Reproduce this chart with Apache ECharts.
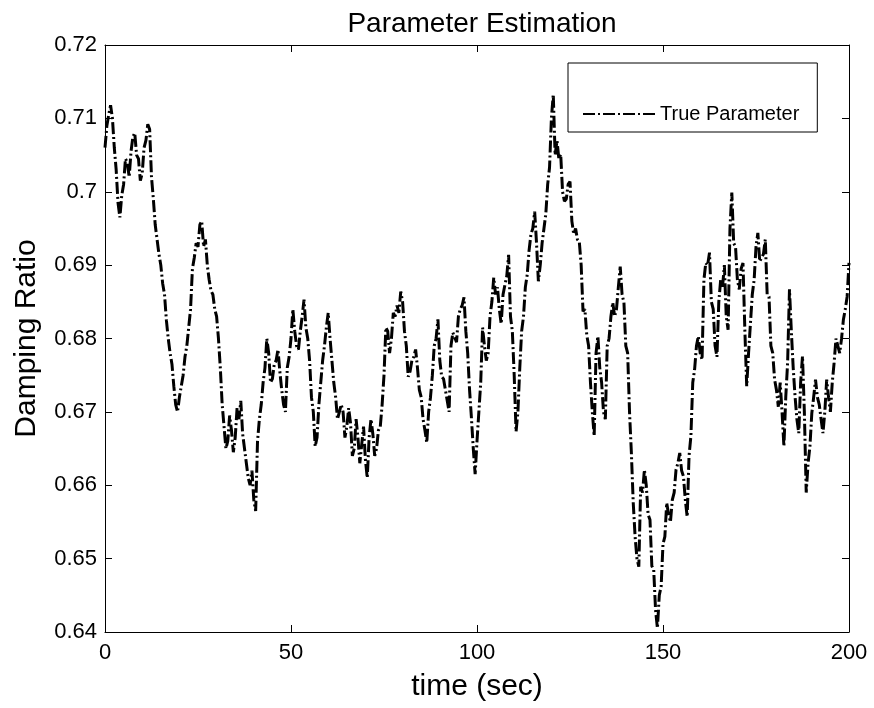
<!DOCTYPE html>
<html>
<head>
<meta charset="utf-8">
<script src="https://cdn.jsdelivr.net/npm/echarts@6/dist/echarts.min.js"></script>
<style>
html,body{margin:0;padding:0;background:#fff;}
#chart{width:874px;height:708px;}
</style>
</head>
<body>
<div id="chart"></div>
<script>
// Sample step (sec) of the trace
var timeStep = 0.5;

// True Parameter (damping ratio) sampled every 0.5 s from t = 0 to 200
var trueParameter = [
// 0 - 9.5
0.7060,0.7090,0.7105,0.7118,0.7100,0.7060,0.7030,0.6985,0.6965,0.6995,0.7010,0.7045,0.7040,0.7020,0.7055,0.7075,0.7080,0.7050,0.7045,0.7015,
// 10 - 19.5
0.7025,0.7060,0.7070,0.7092,0.7085,0.7020,0.6990,0.6955,0.6935,0.6915,0.6900,0.6875,0.6860,0.6825,0.6800,0.6780,0.6765,0.6735,0.6710,0.6700,
// 20 - 29.5
0.6720,0.6735,0.6750,0.6775,0.6790,0.6815,0.6840,0.6895,0.6910,0.6930,0.6925,0.6955,0.6960,0.6925,0.6935,0.6900,0.6880,0.6865,0.6860,0.6840,
// 30 - 39.5
0.6830,0.6800,0.6760,0.6710,0.6680,0.6650,0.6660,0.6695,0.6675,0.6645,0.6665,0.6705,0.6690,0.6715,0.6670,0.6650,0.6630,0.6610,0.6600,0.6620,
// 40 - 49.5
0.6580,0.6565,0.6660,0.6690,0.6710,0.6740,0.6760,0.6800,0.6780,0.6740,0.6745,0.6765,0.6770,0.6785,0.6755,0.6730,0.6710,0.6700,0.6760,0.6775,
// 50 - 59.5
0.6800,0.6840,0.6810,0.6790,0.6785,0.6810,0.6830,0.6853,0.6815,0.6800,0.6770,0.6720,0.6700,0.6653,0.6665,0.6710,0.6740,0.6770,0.6790,0.6815,
// 60 - 69.5
0.6835,0.6800,0.6770,0.6740,0.6720,0.6690,0.6690,0.6710,0.6700,0.6665,0.6680,0.6705,0.6685,0.6640,0.6650,0.6690,0.6665,0.6630,0.6655,0.6680,
// 70 - 79.5
0.6635,0.6610,0.6665,0.6690,0.6670,0.6640,0.6650,0.6675,0.6680,0.6710,0.6750,0.6815,0.6810,0.6780,0.6800,0.6835,0.6830,0.6845,0.6835,0.6864,
// 80 - 89.5
0.6850,0.6810,0.6790,0.6748,0.6755,0.6770,0.6775,0.6785,0.6760,0.6730,0.6720,0.6690,0.6675,0.6658,0.6700,0.6720,0.6750,0.6790,0.6800,0.6826,
// 90 - 99.5
0.6770,0.6748,0.6745,0.6730,0.6715,0.6700,0.6790,0.6808,0.6810,0.6795,0.6830,0.6840,0.6845,0.6856,0.6810,0.6780,0.6730,0.6692,0.6650,0.6615,
// 100 - 109.5
0.6660,0.6700,0.6740,0.6815,0.6790,0.6770,0.6780,0.6830,0.6850,0.6883,0.6860,0.6870,0.6840,0.6820,0.6860,0.6873,0.6885,0.6914,0.6830,0.6810,
// 110 - 119.5
0.6750,0.6673,0.6700,0.6760,0.6810,0.6830,0.6870,0.6887,0.6920,0.6942,0.6950,0.6973,0.6930,0.6878,0.6900,0.6930,0.6950,0.6970,0.7010,0.7033,
// 120 - 129.5
0.7100,0.7133,0.7050,0.7070,0.7045,0.7051,0.7000,0.6987,0.6990,0.7010,0.7014,0.6960,0.6942,0.6950,0.6935,0.6932,0.6900,0.6837,0.6840,0.6805,
// 130 - 139.5
0.6790,0.6740,0.6700,0.6667,0.6780,0.6803,0.6760,0.6740,0.6700,0.6690,0.6790,0.6800,0.6830,0.6849,0.6830,0.6840,0.6870,0.6898,0.6860,0.6849,
// 140 - 149.5
0.6790,0.6780,0.6700,0.6644,0.6576,0.6530,0.6500,0.6489,0.6598,0.6590,0.6621,0.6600,0.6560,0.6553,0.6490,0.6485,0.6430,0.6405,0.6450,0.6462,
// 150 - 159.5
0.6520,0.6530,0.6576,0.6560,0.6550,0.6580,0.6590,0.6621,0.6630,0.6644,0.6620,0.6612,0.6580,0.6557,0.6640,0.6667,0.6740,0.6758,0.6790,0.6803,
// 160 - 169.5
0.6780,0.6771,0.6880,0.6903,0.6900,0.6917,0.6850,0.6840,0.6790,0.6775,0.6850,0.6880,0.6870,0.6900,0.6830,0.6812,0.6950,0.6999,0.6930,0.6925,
// 170 - 179.5
0.6880,0.6867,0.6895,0.6903,0.6812,0.6735,0.6780,0.6820,0.6860,0.6880,0.6925,0.6944,0.6905,0.6910,0.6915,0.6935,0.6860,0.6857,0.6790,0.6780,
// 180 - 189.5
0.6744,0.6730,0.6707,0.6740,0.6700,0.6653,0.6720,0.6767,0.6867,0.6810,0.6760,0.6721,0.6690,0.6671,0.6740,0.6776,0.6700,0.6590,0.6630,0.6653,
// 190 - 200
0.6698,0.6720,0.6744,0.6720,0.6710,0.6690,0.6671,0.6700,0.6744,0.6720,0.6700,0.6740,0.6767,0.6800,0.6790,0.6780,0.6800,0.6826,0.6840,0.6857,0.6903
];

var xTicks = [0, 50, 100, 150, 200];
var yTicks = [0.64, 0.65, 0.66, 0.67, 0.68, 0.69, 0.70, 0.71, 0.72];

var seriesData = trueParameter.map(function (v, i) { return [i * timeStep, v]; });

var FONT = 'Liberation Sans, Arial, Helvetica, sans-serif';

var chart = echarts.init(document.getElementById('chart'), null, { renderer: 'canvas' });

function xAxisCfg(pos, showLabel) {
  return {
    type: 'value', position: pos,
    min: xTicks[0], max: xTicks[xTicks.length - 1], interval: 50,
    axisLine: { show: true, onZero: false, lineStyle: { color: '#000', width: 1 } },
    axisTick: { show: true, inside: true, length: 7, lineStyle: { color: '#000' } },
    axisLabel: { show: showLabel, color: '#000', fontSize: 22, fontFamily: FONT, margin: 10 },
    splitLine: { show: false },
    name: showLabel ? 'time (sec)' : '',
    nameLocation: 'middle', nameGap: 40,
    nameTextStyle: { color: '#000', fontSize: 30, fontFamily: FONT }
  };
}
function yAxisCfg(pos, showLabel) {
  return {
    type: 'value', position: pos,
    min: yTicks[0], max: yTicks[yTicks.length - 1], interval: 0.01,
    axisLine: { show: true, onZero: false, lineStyle: { color: '#000', width: 1 } },
    axisTick: { show: true, inside: true, length: 7, lineStyle: { color: '#000' } },
    axisLabel: { show: showLabel, color: '#000', fontSize: 22, fontFamily: FONT, margin: 8 },
    splitLine: { show: false },
    name: showLabel ? 'Damping Ratio' : '',
    nameLocation: 'middle', nameGap: 63, nameRotate: 90,
    nameTextStyle: { color: '#000', fontSize: 30, fontFamily: FONT }
  };
}

chart.setOption({
  backgroundColor: '#fff',
  animation: false,
  title: {
    text: 'Parameter Estimation', left: 477, top: 5, textAlign: 'center',
    textStyle: { color: '#000', fontSize: 28, fontWeight: 'normal', fontFamily: FONT }
  },
  grid: { left: 105, top: 45, right: 25, bottom: 76, containLabel: false },
  legend: {
    left: 568, top: 63,
    padding: [41, 18, 8, 14],
    itemWidth: 72, itemHeight: 14,
    borderColor: '#000', borderWidth: 1, borderRadius: 0,
    backgroundColor: '#fff',
    itemStyle: { color: 'rgba(0,0,0,0)', borderWidth: 0 },
    textStyle: { color: '#000', fontSize: 20, fontFamily: FONT },
    data: ['True Parameter']
  },
  xAxis: [xAxisCfg('bottom', true), xAxisCfg('top', false)],
  yAxis: [yAxisCfg('left', true), yAxisCfg('right', false)],
  series: [{
    name: 'True Parameter',
    type: 'line',
    data: seriesData,
    xAxisIndex: 0, yAxisIndex: 0,
    showSymbol: false, symbol: 'none',
    lineStyle: { color: '#000', width: 3, type: [12, 3, 2, 3] },
    itemStyle: { color: '#000' }
  }]
});
</script>
</body>
</html>
